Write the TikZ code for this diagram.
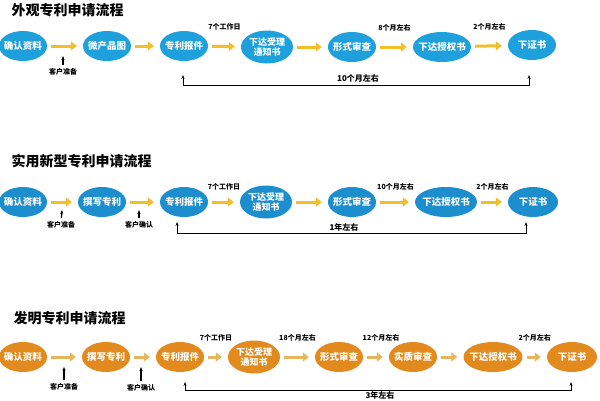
\documentclass[tikz,border=0pt]{standalone}
\usepackage{fontspec}
\setmainfont{Noto Sans CJK SC}
\usetikzlibrary{arrows.meta, positioning, shapes.geometric, calc}
\definecolor{stageblue}{RGB}{30, 160, 220}
\definecolor{stagebluedark}{RGB}{28, 142, 206}
\definecolor{stageorange}{RGB}{226, 138, 30}
\definecolor{flowgold}{RGB}{244, 190, 40}
\definecolor{flowtan}{RGB}{232, 182, 92}

\begin{document}
\begin{tikzpicture}[
    x=1pt, y=-1pt,
    stage/.style={ellipse, fill=#1, text=white, minimum width=48pt, minimum height=30pt, inner xsep=-4pt, inner ysep=0pt, align=center, font=\fontsize{9.5}{10.5}\selectfont\bfseries},
    twoline/.style={minimum width=52pt, minimum height=33pt, font=\fontsize{9}{9.5}\selectfont\bfseries},
    flow/.style={-{Triangle[length=6pt, width=9pt]}, line width=3pt, draw=#1, shorten <=4pt, shorten >=6pt},
    uparr/.style={-{Stealth[length=4pt]}, line width=1.2pt},
    span/.style={{Stealth[length=4pt]}-{Stealth[length=4pt]}, line width=1pt},
    title/.style={font=\fontsize{14}{16}\selectfont\bfseries, anchor=west},
    note/.style={font=\fontsize{7}{8}\selectfont\bfseries},
    period/.style={font=\fontsize{8}{9}\selectfont\bfseries}
]
\useasboundingbox (0,0) rectangle (600,400);

% Row 1: design patent
\node[title] (t1) at (8,10) {外观专利申请流程};
\node[stage=stageblue] (a1) at (23,46) {确认资料};
\node[stage=stageblue] (a2) at (107,46) {微产品图};
\node[stage=stageblue] (a3) at (184,46) {专利报件};
\node[stage=stageblue, twoline] (a4) at (267,47) {下达受理\\通知书};
\node[stage=stageblue] (a5) at (352,47) {形式审查};
\node[stage=stageblue, minimum width=58pt] (a6) at (442,47) {下达授权书};
\node[stage=stageblue] (a7) at (532,45) {下证书};

\draw[flow=flowgold] (a1) -- (a2);
\draw[flow=flowgold] (a2) -- (a3);
\draw[flow=flowgold] (a3) -- node[note, above=11pt] {7个工作日} (a4);
\draw[flow=flowgold] (a4) -- (a5);
\draw[flow=flowgold] (a5) -- node[note, above=11pt] {8个月左右} (a6);
\draw[flow=flowgold] (a6) -- node[note, above=11pt] {2个月左右} (a7);

\node[note] (c1) at (63,72) {客户准备};
\coordinate (c1t) at (63,56);
\draw[uparr] (c1) -- (c1t);

\coordinate (l1) at (183,75);
\coordinate (r1) at (529,75);
\draw[span] (l1) -- ++(0,10) -| (r1);
\node[period] (d1) at (358,78) {10个月左右};

% Row 2: utility model patent
\node[title] (t2) at (8,161) {实用新型专利申请流程};
\node[stage=stagebluedark] (b1) at (23,202) {确认资料};
\node[stage=stagebluedark] (b2) at (102,202) {撰写专利};
\node[stage=stagebluedark] (b3) at (184,202) {专利报件};
\node[stage=stagebluedark, twoline] (b4) at (266,202) {下达受理\\通知书};
\node[stage=stagebluedark] (b5) at (352,202) {形式审查};
\node[stage=stagebluedark, minimum width=62pt] (b6) at (446,202) {下达授权书};
\node[stage=stagebluedark, minimum width=50pt] (b7) at (533,202) {下证书};

\draw[flow=flowgold] (b1) -- (b2);
\draw[flow=flowgold] (b2) -- (b3);
\draw[flow=flowgold] (b3) -- node[note, above=7pt] {7个工作日} (b4);
\draw[flow=flowgold] (b4) -- (b5);
\draw[flow=flowgold] (b5) -- node[note, above=7pt] {10个月左右} (b6);
\draw[flow=flowgold] (b6) -- node[note, above=7pt] {2个月左右} (b7);

\node[note] (c2) at (61,225) {客户准备};
\coordinate (c2t) at (62,210);
\draw[uparr] (c2) -- (c2t);
\node[note] (c3) at (139,225) {客户确认};
\coordinate (c3t) at (139,210);
\draw[uparr] (c3) -- (c3t);

\coordinate (l2) at (177,222);
\coordinate (r2) at (526,222);
\draw[span] (l2) -- ++(0,11) -| (r2);
\node[period] (d2) at (344,227) {1年左右};

% Row 3: invention patent
\node[title] (t3) at (10,318) {发明专利申请流程};
\node[stage=stageorange] (e1) at (23,357) {确认资料};
\node[stage=stageorange] (e2) at (106,357) {撰写专利};
\node[stage=stageorange] (e3) at (180,357) {专利报件};
\node[stage=stageorange, twoline] (e4) at (254,357) {下达受理\\通知书};
\node[stage=stageorange] (e5) at (339,357) {形式审查};
\node[stage=stageorange] (e6) at (413,357) {实质审查};
\node[stage=stageorange, minimum width=59pt] (e7) at (493,357) {下达授权书};
\node[stage=stageorange, minimum width=50pt] (e8) at (572,357) {下证书};

\draw[flow=flowtan] (e1) -- (e2);
\draw[flow=flowtan] (e2) -- (e3);
\draw[flow=flowtan] (e3) -- node[note, above=11pt] {7个工作日} (e4);
\draw[flow=flowtan] (e4) -- node[note, above=11pt] {18个月左右} (e5);
\draw[flow=flowtan] (e5) -- node[note, above=11pt, xshift=5pt] {12个月左右} (e6);
\draw[flow=flowtan] (e6) -- (e7);
\draw[flow=flowtan] (e7) -- node[note, above=11pt] {2个月左右} (e8);

\node[note] (c4) at (64,387) {客户准备};
\coordinate (c4t) at (64,367);
\draw[uparr] (c4) -- (c4t);
\node[note] (c5) at (141,388) {客户确认};
\coordinate (c5t) at (141,367);
\draw[uparr] (c5) -- (c5t);

\coordinate (l3) at (185,382);
\coordinate (r3) at (571,382);
\draw[span] (l3) -- ++(0,8) -| (r3);
\node[period] (d3) at (380,395) {3年左右};

\end{tikzpicture}
\end{document}
